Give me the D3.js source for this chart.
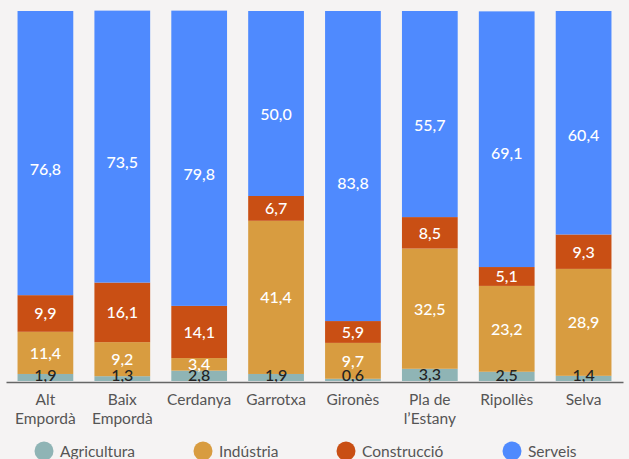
<!DOCTYPE html>
<html>
<head>
<meta charset="utf-8">
<script src="https://cdn.jsdelivr.net/npm/d3@7"></script>
<style>
  html, body { margin: 0; padding: 0; background: #f5f3f3; }
  svg { display: block; font-family: Lato, "Open Sans", sans-serif; }
</style>
</head>
<body>
<svg id="chart" width="629" height="459"></svg>
<script>
// Comarques and sector shares (% of employment)
const comarques = ["Alt Empordà", "Baix Empordà", "Cerdanya", "Garrotxa", "Gironès", "Pla de l’Estany", "Ripollès", "Selva"];
const categoryLines = [["Alt", "Empordà"], ["Baix", "Empordà"], ["Cerdanya"], ["Garrotxa"], ["Gironès"], ["Pla de", "l’Estany"], ["Ripollès"], ["Selva"]];
const sectors = ["Agricultura", "Indústria", "Construcció", "Serveis"];
const agricultura = [1.9, 1.3, 2.8, 1.9, 0.6, 3.3, 2.5, 1.4];
const industria   = [11.4, 9.2, 3.4, 41.4, 9.7, 32.5, 23.2, 28.9];
const construccio = [9.9, 16.1, 14.1, 6.7, 5.9, 8.5, 5.1, 9.3];
const serveis     = [76.8, 73.5, 79.8, 50.0, 83.8, 55.7, 69.1, 60.4];
const colors = ["#8fb4b5", "#d89c40", "#c94f14", "#4f8afe"];
const labelColors = ["#222222", "#ffffff", "#ffffff", "#ffffff"];

const rows = comarques.map((c, i) => ({
  comarca: c,
  Agricultura: agricultura[i],
  "Indústria": industria[i],
  "Construcció": construccio[i],
  Serveis: serveis[i]
}));

const svg = d3.select("#chart");
const margin = { top: 11, left: 6, right: 6 };
const plotBottom = 381;

const x = d3.scaleBand()
  .domain(comarques)
  .range([margin.left, 629 - margin.right])
  .paddingInner(0.275)
  .paddingOuter(0.15);

const y = d3.scaleLinear()
  .domain([0, 100])
  .range([plotBottom, margin.top]);

const stack = d3.stack().keys(sectors);
const series = stack(rows);

const fmt = v => d3.format(".1f")(v).replace(".", ",");

const groups = svg.append("g").selectAll("g")
  .data(series)
  .join("g")
  .attr("fill", (d, i) => colors[i]);

groups.selectAll("rect")
  .data(d => d)
  .join("rect")
  .attr("x", d => x(d.data.comarca))
  .attr("width", x.bandwidth())
  .attr("y", d => y(d[1]))
  .attr("height", d => y(d[0]) - y(d[1]));

// value labels: bottom sector sits on the baseline, top sector a little below its middle
const labels = svg.append("g")
  .attr("text-anchor", "middle")
  .attr("font-size", 16)
  .attr("font-weight", 500);

series.forEach((s, si) => {
  labels.selectAll(null)
    .data(s)
    .join("text")
    .attr("x", d => x(d.data.comarca) + x.bandwidth() / 2)
    .attr("y", d => {
      const top = y(d[1]), bottom = y(d[0]);
      if (si === 0) return Math.min((top + bottom) / 2, plotBottom - 5) + 5;
      if (si === sectors.length - 1) return top + 0.555 * (bottom - top) + 6;
      return (top + bottom) / 2 + 6;
    })
    .attr("fill", labelColors[si])
    .text(d => fmt(d[1] - d[0]));
});

// baseline
const axis = svg.append("g")
  .attr("transform", `translate(0,${plotBottom + 1})`)
  .call(d3.axisBottom(x).tickSize(0).tickFormat(""));
axis.select(".domain").attr("stroke", "#666").attr("stroke-width", 1.5);

// category labels
const catG = svg.append("g")
  .attr("text-anchor", "middle")
  .attr("font-size", 15.5)
  .attr("fill", "#555");
categoryLines.forEach((lines, i) => {
  const cx = x(comarques[i]) + x.bandwidth() / 2;
  const t = catG.append("text").attr("x", cx).attr("y", 405);
  lines.forEach((ln, j) => {
    t.append("tspan")
      .attr("x", cx)
      .attr("dy", j === 0 ? 0 : 19)
      .text(ln);
  });
});

// legend
const legendX = [44, 203, 346, 512];
const legend = svg.append("g").selectAll("g")
  .data(sectors)
  .join("g")
  .attr("transform", (d, i) => `translate(${legendX[i]},451)`);
legend.append("circle").attr("r", 9.5).attr("fill", (d, i) => colors[i]);
legend.append("text")
  .attr("x", 16)
  .attr("y", 5.5)
  .attr("font-size", 15.5)
  .attr("fill", "#555")
  .text(d => d);
</script>
</body>
</html>
